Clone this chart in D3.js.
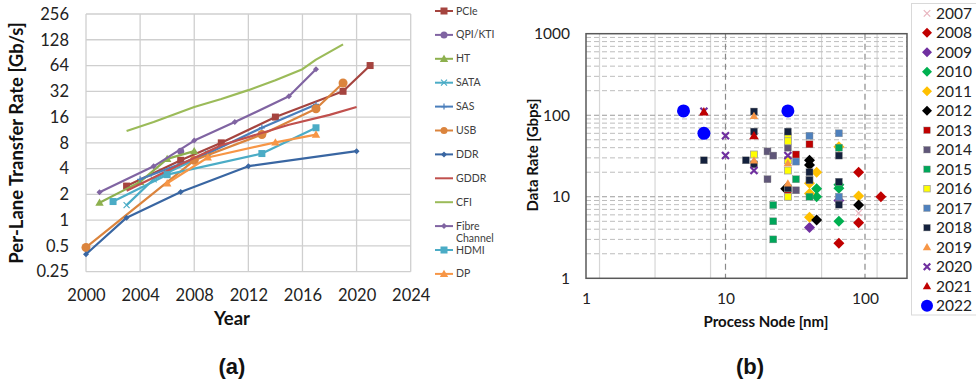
<!DOCTYPE html>
<html><head><meta charset="utf-8">
<script src="https://cdn.jsdelivr.net/npm/d3@7"></script>
<style>
body{margin:0;background:#fff;}
svg{display:block;}
text{font-family:Lato,"Open Sans",sans-serif;}
</style>
</head><body>
<svg id="c" width="976" height="384"></svg>
<script>
// ---------- (a) per-lane transfer rate data ----------
const xTicksA = [2000,2004,2008,2012,2016,2020,2024];
const yTicksA = [0.25,0.5,1,2,4,8,16,32,64,128,256];
const yTickLabelsA = ["0.25","0.5","1","2","4","8","16","32","64","128","256"];
const seriesNames = ["PCIe","QPI/KTI","HT","SATA","SAS","USB","DDR","GDDR","CFI","Fibre Channel","HDMI","DP"];
const pcie  = [[2003,2.5],[2007,5],[2010,8],[2014,16],[2019,32],[2021,64]];
const qpi   = [[2007,6.4]];
const ht    = [[2001,1.6],[2004,2.8],[2006,5.2],[2008,6.4]];
const sata  = [[2003,1.5],[2005,3],[2009,6]];
const sas   = [[2004,3],[2009,6],[2013,12],[2017,22.5]];
const usb   = [[2000,0.48],[2008,5],[2013,10],[2017,20],[2019,40]];
const ddr   = [[2000,0.4],[2003,1.07],[2007,2.13],[2012,4.27],[2020,6.4]];
const gddr  = [[2003,2.2],[2007,4.5],[2010,7.5],[2015,13],[2018,17],[2020,21]];
const cfi   = [[2003,11],[2005,14],[2008,21],[2010,26],[2012,33],[2014,43],[2016,58],[2017,75],[2019,113]];
const fibre = [[2001,2.125],[2005,4.25],[2008,8.5],[2011,14],[2015,28],[2017,58]];
const hdmi  = [[2002,1.65],[2006,3.4],[2013,6],[2017,12]];
const dp    = [[2006,2.7],[2009,5.4],[2014,8.1],[2017,10]];

// ---------- (b) data rate vs process node ----------
const legendYears = ["2007","2008","2009","2010","2011","2012","2013","2014","2015","2016","2017","2018","2019","2020","2021","2022"];
const xTicksB = [1,10,100];
const yTicksB = [1,10,100,1000];
const y2007 = [[90,6.3]];
const y2008 = [[90,20],[130,10],[90,4.8],[65,2.7]];
const y2009 = [[40,4.2],[65,9]];
const y2010 = [[45,12.5],[45,10],[65,12.7],[65,14],[65,5]];
const y2011 = [[45,20],[40,14.6],[40,11],[40,5.6],[65,41],[90,10.2]];
const y2012 = [[40,28],[40,24.5],[45,5.2],[90,7.9],[27,12.5]];
const y2013 = [[40,44],[32,33],[28,11.5]];
const y2014 = [[20,36],[22,32],[20,16.4],[28,40],[32,12],[40,16]];
const y2015 = [[22,7.9],[22,5],[22,3],[32,16.4],[28,12.7],[40,10],[65,40]];
const y2016 = [[16,33],[28,55],[28,48],[28,28],[28,21],[28,10]];
const y2017 = [[40,56],[65,60],[32,27],[65,10]];
const y2018 = [[7,28],[14,28],[16,111],[16,63],[16,25],[28,63],[28,12.7],[40,20],[40,16],[65,32],[65,15.3],[65,8]];
const y2019 = [[16,98],[16,28],[28,25.8],[28,14.6]];
const y2020 = [[7,112],[10,56],[10,32],[16,21],[28,32]];
const y2021 = [[7,110],[16,56]];
const y2022 = [[5,113],[7,60],[28,113]];

// ---------- drawing ----------
const svg = d3.select("#c");

// ===== chart (a) =====
const A = {l:86, r:410.7, t:14, b:271.7};
const xA = d3.scaleLinear().domain([2000,2024]).range([A.l, A.r]);
const yA = d3.scaleLog().base(2).domain([0.25,256]).range([A.b, A.t]);
const gA = svg.append("g");

gA.append("g").selectAll("line").data(xTicksA).join("line")
  .attr("x1",d=>xA(d)).attr("x2",d=>xA(d)).attr("y1",A.t).attr("y2",A.b)
  .attr("stroke","#cfcfcf").attr("stroke-width",1.3);
gA.append("g").selectAll("line").data(yTicksA).join("line")
  .attr("x1",A.l).attr("x2",A.r).attr("y1",d=>yA(d)).attr("y2",d=>yA(d))
  .attr("stroke","#cfcfcf").attr("stroke-width",1.3);

const axLeftA = gA.append("g").attr("transform",`translate(${A.l},0)`)
  .call(d3.axisLeft(yA).tickValues(yTicksA).tickFormat((d,i)=>yTickLabelsA[i]).tickSize(0).tickPadding(17));
axLeftA.select(".domain").remove();
axLeftA.selectAll("text").attr("font-size",16.5).attr("fill","#222").style("font-family","Lato");
const axBotA = gA.append("g").attr("transform",`translate(0,${A.b})`)
  .call(d3.axisBottom(xA).tickValues(xTicksA).tickFormat(d3.format("d")).tickSize(0).tickPadding(18));
axBotA.select(".domain").remove();
axBotA.selectAll("text").attr("font-size",16.5).attr("fill","#222").style("font-family","Lato");

gA.append("text").attr("x",232).attr("y",325).attr("text-anchor","middle")
  .attr("font-size",18.5).attr("font-weight","bold").attr("fill","#111").text("Year");
gA.append("text").attr("transform","translate(23,143) rotate(-90)").attr("text-anchor","middle")
  .attr("font-size",18.5).attr("font-weight","bold").attr("fill","#111").text("Per-Lane Transfer Rate [Gb/s]");

const styleA = {
  "PCIe":{data:pcie,color:"#A5443F",mk:"square",ms:7},
  "QPI/KTI":{data:qpi,color:"#8064A2",mk:"circle",ms:3.5},
  "HT":{data:ht,color:"#8DB04E",mk:"triangle",ms:7},
  "SATA":{data:sata,color:"#4BACC6",mk:"x",ms:6},
  "SAS":{data:sas,color:"#4A7EBB",mk:"plus",ms:6},
  "USB":{data:usb,color:"#DB843D",mk:"circle",ms:4.5},
  "DDR":{data:ddr,color:"#3966A2",mk:"diamond",ms:6},
  "GDDR":{data:gddr,color:"#C0504D",mk:null,ms:0},
  "CFI":{data:cfi,color:"#9BBB59",mk:null,ms:0},
  "Fibre Channel":{data:fibre,color:"#8064A2",mk:"diamond",ms:6},
  "HDMI":{data:hdmi,color:"#4BACC6",mk:"square",ms:7},
  "DP":{data:dp,color:"#F79646",mk:"triangle",ms:7}
};

function drawMarker(g, type, x, y, s, color){
  if(!type) return;
  if(type==="square"){
    g.append("rect").attr("x",x-s/2).attr("y",y-s/2).attr("width",s).attr("height",s).attr("fill",color);
  } else if(type==="circle"){
    g.append("circle").attr("cx",x).attr("cy",y).attr("r",s).attr("fill",color);
  } else if(type==="triangle"){
    g.append("path").attr("d",`M${x},${y-s*0.6}L${x+s*0.6},${y+s*0.45}L${x-s*0.6},${y+s*0.45}Z`).attr("fill",color);
  } else if(type==="diamond"){
    g.append("path").attr("d",`M${x},${y-s/2}L${x+s/2},${y}L${x},${y+s/2}L${x-s/2},${y}Z`).attr("fill",color);
  } else if(type==="x"){
    const h=s/2;
    g.append("path").attr("d",`M${x-h},${y-h}L${x+h},${y+h}M${x-h},${y+h}L${x+h},${y-h}`).attr("stroke",color).attr("stroke-width",1.2).attr("fill","none");
  } else if(type==="plus"){
    const h=s/2;
    g.append("path").attr("d",`M${x},${y-h}L${x},${y+h}M${x-h},${y}L${x+h},${y}`).attr("stroke",color).attr("stroke-width",1.2).attr("fill","none");
  }
}

const lineA = d3.line().x(d=>xA(d[0])).y(d=>yA(d[1]));
const gLines = gA.append("g");
seriesNames.forEach(name=>{
  const s = styleA[name];
  gLines.append("path").datum(s.data).attr("d",lineA).attr("fill","none")
    .attr("stroke",s.color).attr("stroke-width",2.2).attr("stroke-linejoin","round");
  s.data.forEach(d=>drawMarker(gLines,s.mk,xA(d[0]),yA(d[1]),s.ms,s.color));
});

// legend (a)
const legA = gA.append("g");
seriesNames.forEach((name,i)=>{
  const s = styleA[name];
  const y = 11 + i*23.9;
  legA.append("line").attr("x1",435).attr("x2",453).attr("y1",y).attr("y2",y).attr("stroke",s.color).attr("stroke-width",2);
  drawMarker(legA,s.mk,444,y,s.mk==="circle"?3.5:s.ms,s.color);
  if(name==="Fibre Channel"){
    legA.append("text").attr("x",456).attr("y",y+3.5).attr("font-size",10.5).attr("fill","#404040").text("Fibre");
    legA.append("text").attr("x",456).attr("y",y+16).attr("font-size",10.5).attr("fill","#404040").text("Channel");
  } else {
    legA.append("text").attr("x",456).attr("y",y+3.5).attr("font-size",10.5).attr("fill","#404040").text(name);
  }
});

svg.append("text").attr("x",232).attr("y",374).attr("text-anchor","middle")
  .attr("font-size",22).attr("font-weight","bold").attr("fill","#111")
  .style("font-family","Liberation Sans, Arial, sans-serif").text("(a)");

// ===== chart (b) =====
const B = {l:586, t:33.7, b:278.3};
const xB = d3.scaleLog().domain([1,200]).range([B.l, B.l+139.5*Math.log10(200)]);
const yB = d3.scaleLog().domain([1,1000]).range([B.b, B.t]);
B.r = xB(200);
const gB = svg.append("g");

const vSolid = [1.25,3.125,7.8125,19.53,48.83,122.07];
gB.append("g").selectAll("line").data(vSolid).join("line")
  .attr("x1",d=>xB(d)).attr("x2",d=>xB(d)).attr("y1",B.t).attr("y2",B.b)
  .attr("stroke","#d6d6d6").attr("stroke-width",1.2);
const minorY = [];
[1,10,100].forEach(dec=>{for(let k=2;k<=9;k++) minorY.push(dec*k);});
gB.append("g").selectAll("line").data(minorY).join("line")
  .attr("x1",B.l).attr("x2",B.r).attr("y1",d=>yB(d)).attr("y2",d=>yB(d))
  .attr("stroke","#bdbdbd").attr("stroke-width",1).attr("stroke-dasharray","5,3");
gB.append("g").selectAll("line").data([10,100]).join("line")
  .attr("x1",B.l).attr("x2",B.r).attr("y1",d=>yB(d)).attr("y2",d=>yB(d))
  .attr("stroke","#9a9a9a").attr("stroke-width",1.2).attr("stroke-dasharray","5,3");
gB.append("g").selectAll("line").data([10,100]).join("line")
  .attr("x1",d=>xB(d)).attr("x2",d=>xB(d)).attr("y1",B.t).attr("y2",B.b)
  .attr("stroke","#8a8a8a").attr("stroke-width",1.2).attr("stroke-dasharray","6,4");
gB.append("rect").attr("x",B.l).attr("y",B.t).attr("width",B.r-B.l).attr("height",B.b-B.t)
  .attr("fill","none").attr("stroke","#595959").attr("stroke-width",1.5);

const axLeftB = gB.append("g").attr("transform",`translate(${B.l},0)`)
  .call(d3.axisLeft(yB).tickValues(yTicksB).tickFormat(d3.format("d")).tickSize(0).tickPadding(16));
axLeftB.select(".domain").remove();
axLeftB.selectAll("text").attr("font-size",15.5).attr("fill","#222").style("font-family","Lato");
const axBotB = gB.append("g").attr("transform",`translate(0,${B.b})`)
  .call(d3.axisBottom(xB).tickValues(xTicksB).tickFormat(d3.format("d")).tickSize(0).tickPadding(15));
axBotB.select(".domain").remove();
axBotB.selectAll("text").attr("font-size",15.5).attr("fill","#222").style("font-family","Lato");

gB.append("text").attr("x",766).attr("y",327).attr("text-anchor","middle")
  .attr("font-size",15).attr("font-weight","bold").attr("fill","#111").text("Process Node [nm]");
gB.append("text").attr("transform","translate(538,155) rotate(-90)").attr("text-anchor","middle")
  .attr("font-size",15).attr("font-weight","bold").attr("fill","#111").text("Data Rate [Gbps]");

const styleB = {
  "2007":{data:y2007,mk:"x",color:"#E8B4BE",s:6},
  "2008":{data:y2008,mk:"diamond",color:"#C00000",s:11},
  "2009":{data:y2009,mk:"diamond",color:"#7030A0",s:11},
  "2010":{data:y2010,mk:"diamond",color:"#00B050",s:11},
  "2011":{data:y2011,mk:"diamond",color:"#FFC000",s:11},
  "2012":{data:y2012,mk:"diamond",color:"#000000",s:11},
  "2013":{data:y2013,mk:"square",color:"#C00000",s:7},
  "2014":{data:y2014,mk:"square",color:"#5F5678",s:7},
  "2015":{data:y2015,mk:"square",color:"#00A65A",s:7},
  "2016":{data:y2016,mk:"square",color:"#FFFF00",s:7,stroke:"#a0a0a0"},
  "2017":{data:y2017,mk:"square",color:"#4F81BD",s:7},
  "2018":{data:y2018,mk:"square",color:"#14213D",s:7},
  "2019":{data:y2019,mk:"triangle",color:"#F79646",s:7},
  "2020":{data:y2020,mk:"xbold",color:"#7030A0",s:7},
  "2021":{data:y2021,mk:"triangle",color:"#C00000",s:8},
  "2022":{data:y2022,mk:"bigcircle",color:"#0000FF",s:6.5}
};
function drawMarkerB(g,st,x,y){
  const s=st.s;
  if(st.mk==="bigcircle"){
    g.append("circle").attr("cx",x).attr("cy",y).attr("r",s).attr("fill",st.color);
  } else if(st.mk==="square"){
    g.append("rect").attr("x",x-s/2).attr("y",y-s/2).attr("width",s).attr("height",s)
      .attr("fill",st.color).attr("stroke",st.stroke||"#8a8a8a").attr("stroke-width",st.stroke?0.8:0.4);
  } else if(st.mk==="xbold"){
    const h=s/2;
    g.append("path").attr("d",`M${x-h},${y-h}L${x+h},${y+h}M${x-h},${y+h}L${x+h},${y-h}`)
      .attr("stroke",st.color).attr("stroke-width",2.2).attr("fill","none");
  } else {
    drawMarker(g,st.mk,x,y,s,st.color);
  }
}
const gPts = gB.append("g");
legendYears.forEach(yr=>{
  const st = styleB[yr];
  st.data.forEach(d=>drawMarkerB(gPts,st,xB(d[0]),yB(d[1])));
});

const legB = svg.append("g");
legB.append("rect").attr("x",911.5).attr("y",3.5).attr("width",70).attr("height",311.5)
  .attr("fill","#fff").attr("stroke","#d9d9d9").attr("stroke-width",1);
legendYears.forEach((yr,i)=>{
  const y = 13.3 + i*19.49;
  const st = styleB[yr];
  const small = Object.assign({},st,{s: st.mk==="bigcircle"?6:(st.mk==="diamond"?10:(st.mk==="triangle"?7:6.5))});
  drawMarkerB(legB,small,927,y);
  legB.append("text").attr("x",936).attr("y",y+5.5).attr("font-size",15.5).attr("fill","#222").text(yr);
});

svg.append("text").attr("x",750).attr("y",374).attr("text-anchor","middle")
  .attr("font-size",22).attr("font-weight","bold").attr("fill","#111")
  .style("font-family","Liberation Sans, Arial, sans-serif").text("(b)");
</script>
</body></html>
